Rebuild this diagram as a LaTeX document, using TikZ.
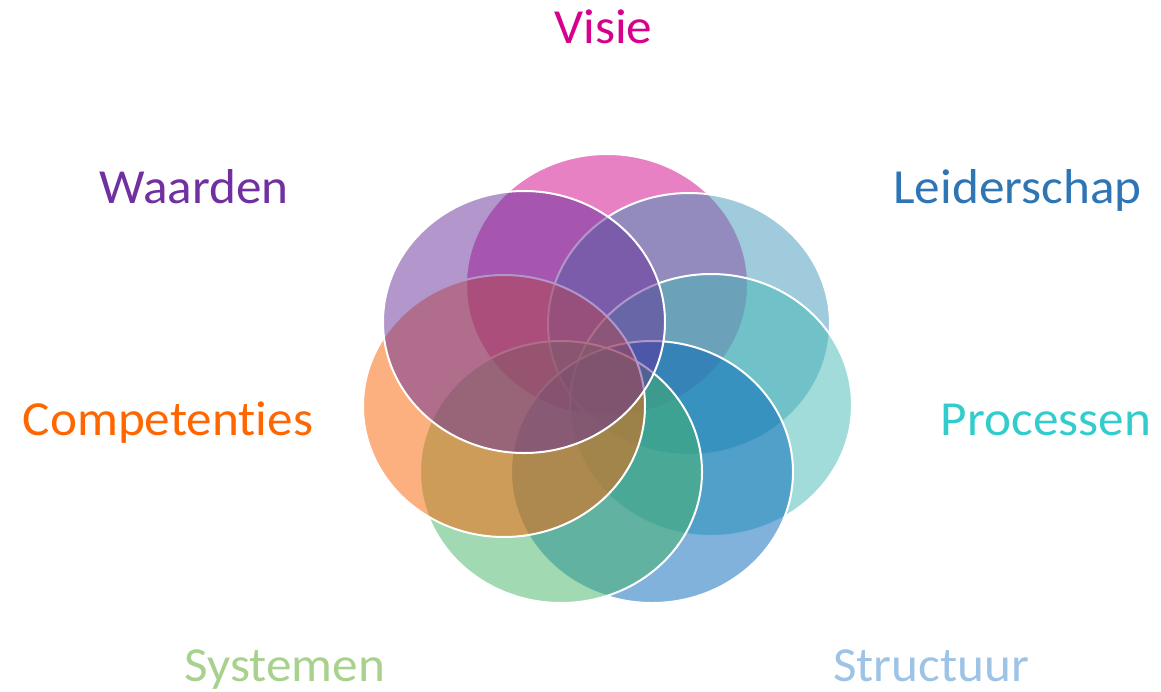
\documentclass[tikz,border=0pt]{standalone}
\usepackage{fontspec}
\setmainfont[RawFeature={-liga;-clig;-calt;-dlig}]{Carlito}
\usetikzlibrary{shapes.geometric}
\definecolor{fVisie}{HTML}{D10189}
\definecolor{fLeider}{HTML}{3F97B9}
\definecolor{fProces}{HTML}{45B9B5}
\definecolor{fStruct}{HTML}{0165B9}
\definecolor{fSystem}{HTML}{43B365}
\definecolor{fCompet}{HTML}{FB6100}
\definecolor{fWaard}{HTML}{652D99}
\definecolor{tVisie}{HTML}{D6008C}
\definecolor{tLeider}{HTML}{2E75B6}
\definecolor{tProces}{HTML}{33CCCC}
\definecolor{tStruct}{HTML}{9DC3E6}
\definecolor{tSystem}{HTML}{A9D18E}
\definecolor{tCompet}{HTML}{FF6600}
\definecolor{tWaard}{HTML}{7030A0}
\newcommand{\wlab}[1]{\scalebox{1.045}[1]{#1}}
\begin{document}
\begin{tikzpicture}[x=1pt,y=-1pt,
  petal/.style={ellipse, minimum width=282pt, minimum height=262pt, inner sep=0pt,
    fill opacity=0.5, draw=white, draw opacity=1, line width=2pt},
  lbl/.style={anchor=base, inner sep=0pt, font=\fontsize{49}{59}\selectfont}]
\useasboundingbox (0,0) rectangle (1161,691);
\node[petal, fill=fVisie]  (pVisie)  at (607,285) {};
\node[petal, fill=fLeider] (pLeider) at (689,324) {};
\node[petal, fill=fProces] (pProces) at (711,405) {};
\node[petal, fill=fStruct] (pStruct) at (652,472) {};
\node[petal, fill=fSystem] (pSystem) at (561,472) {};
\node[petal, fill=fCompet] (pCompet) at (504,406) {};
\node[petal, fill=fWaard]  (pWaard)  at (524,322) {};
\node[lbl, text=tVisie]  (lVisie)  at (603.5,43) {\wlab{Visie}};
\node[lbl, text=tWaard]  (lWaard)  at (194,203) {\wlab{Waarden}};
\node[lbl, text=tLeider] (lLeider) at (1017.5,203) {\wlab{Leiderschap}};
\node[lbl, text=tCompet] (lCompet) at (168,435) {\wlab{Competenties}};
\node[lbl, text=tProces] (lProces) at (1046,435) {\wlab{Processen}};
\node[lbl, text=tSystem] (lSystem) at (285,681) {\wlab{Systemen}};
\node[lbl, text=tStruct] (lStruct) at (931,681) {\wlab{Structuur}};
\end{tikzpicture}
\end{document}
